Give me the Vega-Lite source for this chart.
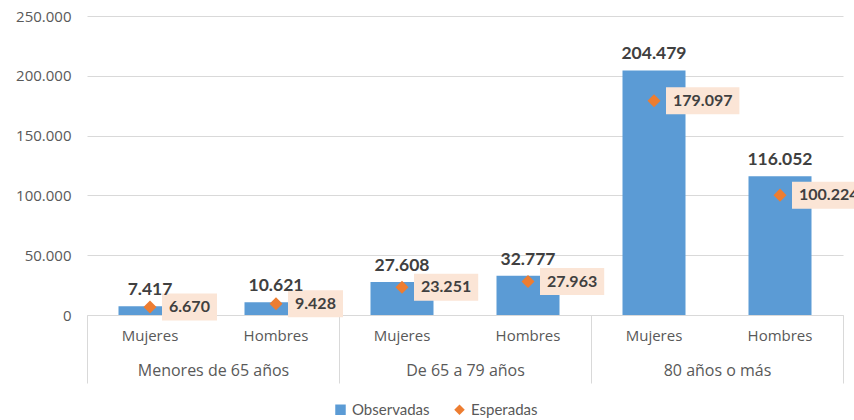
{
  "$schema": "https://vega.github.io/schema/vega-lite/v6.json",
  "width": 756,
  "height": 299,
  "autosize": {"type": "none"},
  "padding": {"left": 87, "top": 16, "right": 11, "bottom": 105},
  "background": "white",
  "config": {
    "font": "Lato",
    "view": {"stroke": null},
    "axis": {"labelFont": "Open Sans", "labelFontSize": 15, "labelColor": "#595959"}
  },
  "data": {
    "values": [
      {"key": "Menores de 65 años|Mujeres", "grupo": "Menores de 65 años", "sexo": "Mujeres", "observadas": 7417, "esperadas": 6670},
      {"key": "Menores de 65 años|Hombres", "grupo": "Menores de 65 años", "sexo": "Hombres", "observadas": 10621, "esperadas": 9428},
      {"key": "De 65 a 79 años|Mujeres", "grupo": "De 65 a 79 años", "sexo": "Mujeres", "observadas": 27608, "esperadas": 23251},
      {"key": "De 65 a 79 años|Hombres", "grupo": "De 65 a 79 años", "sexo": "Hombres", "observadas": 32777, "esperadas": 27963},
      {"key": "80 años o más|Mujeres", "grupo": "80 años o más", "sexo": "Mujeres", "observadas": 204479, "esperadas": 179097},
      {"key": "80 años o más|Hombres", "grupo": "80 años o más", "sexo": "Hombres", "observadas": 116052, "esperadas": 100224}
    ]
  },
  "layer": [
    {
      "encoding": {
        "x": {
          "field": "key",
          "type": "nominal",
          "sort": null,
          "scale": {"type": "band", "paddingInner": 0, "paddingOuter": 0},
          "axis": {
            "title": null,
            "labelExpr": "split(datum.label, '|')[1]",
            "labelAngle": 0,
            "domain": true,
            "domainColor": "#D9D9D9",
            "ticks": false,
            "grid": false,
            "labelPadding": 13
          }
        }
      },
      "layer": [
        {
          "mark": {"type": "bar", "width": {"band": 0.5}},
          "encoding": {
            "y": {
              "field": "observadas",
              "type": "quantitative",
              "scale": {"domain": [0, 250000], "nice": false},
              "axis": {
                "title": null,
                "values": [0, 50000, 100000, 150000, 200000, 250000],
                "labelExpr": "replace(format(datum.value, ','), ',', '.')",
                "domain": false,
                "ticks": false,
                "gridColor": "#D9D9D9",
                "labelPadding": 16
              }
            },
            "color": {
              "datum": "Observadas",
              "type": "nominal",
              "scale": {"domain": ["Observadas", "Esperadas"], "range": ["#5B9BD5", "#ED7D31"]},
              "legend": {
                "orient": "none",
                "legendX": 246,
                "legendY": 386,
                "direction": "horizontal",
                "title": null,
                "labelFont": "Lato",
                "labelFontSize": 15,
                "labelColor": "#595959",
                "symbolSize": 110,
                "symbolStrokeWidth": 0,
                "columnPadding": 22,
                "encode": {
                  "symbols": {
                    "update": {
                      "shape": {"signal": "datum.value === 'Observadas' ? 'square' : 'diamond'"}
                    }
                  }
                }
              }
            }
          }
        },
        {
          "mark": {
            "type": "rect",
            "color": "#FBE5D6",
            "height": 27,
            "baseline": "middle",
            "width": {"expr": "9.2*length(format(datum.esperadas, ',')) + 9"},
            "xOffset": {"expr": "12 + (9.2*length(format(datum.esperadas, ',')) + 9)/2"}
          },
          "encoding": {
            "y": {"field": "esperadas", "type": "quantitative"}
          }
        },
        {
          "mark": {"type": "point", "shape": "diamond", "filled": true, "size": 170, "opacity": 1},
          "encoding": {
            "y": {"field": "esperadas", "type": "quantitative"},
            "color": {"datum": "Esperadas", "type": "nominal"}
          }
        },
        {
          "mark": {
            "type": "text",
            "font": "Lato",
            "fontWeight": "bold",
            "fontSize": 17.5,
            "color": "#404040",
            "baseline": "alphabetic",
            "dy": -11,
            "text": {"expr": "replace(format(datum.observadas, ','), ',', '.')"}
          },
          "encoding": {
            "y": {"field": "observadas", "type": "quantitative"}
          }
        },
        {
          "mark": {
            "type": "text",
            "font": "Lato",
            "fontWeight": "bold",
            "fontSize": 16,
            "color": "#404040",
            "align": "left",
            "baseline": "middle",
            "dx": 19,
            "text": {"expr": "replace(format(datum.esperadas, ','), ',', '.')"}
          },
          "encoding": {
            "y": {"field": "esperadas", "type": "quantitative"}
          }
        }
      ]
    },
    {
      "mark": {"type": "point", "opacity": 0},
      "encoding": {
        "x": {
          "field": "grupo",
          "type": "nominal",
          "sort": null,
          "scale": {"type": "band", "paddingInner": 0, "paddingOuter": 0},
          "axis": {
            "title": null,
            "orient": "bottom",
            "labelAngle": 0,
            "labelFontSize": 16,
            "domain": false,
            "ticks": true,
            "tickBand": "extent",
            "tickSize": 68,
            "tickColor": "#D9D9D9",
            "grid": false,
            "labelPadding": -21
          }
        }
      }
    }
  ],
  "resolve": {"scale": {"x": "independent"}, "axis": {"x": "independent"}}
}
